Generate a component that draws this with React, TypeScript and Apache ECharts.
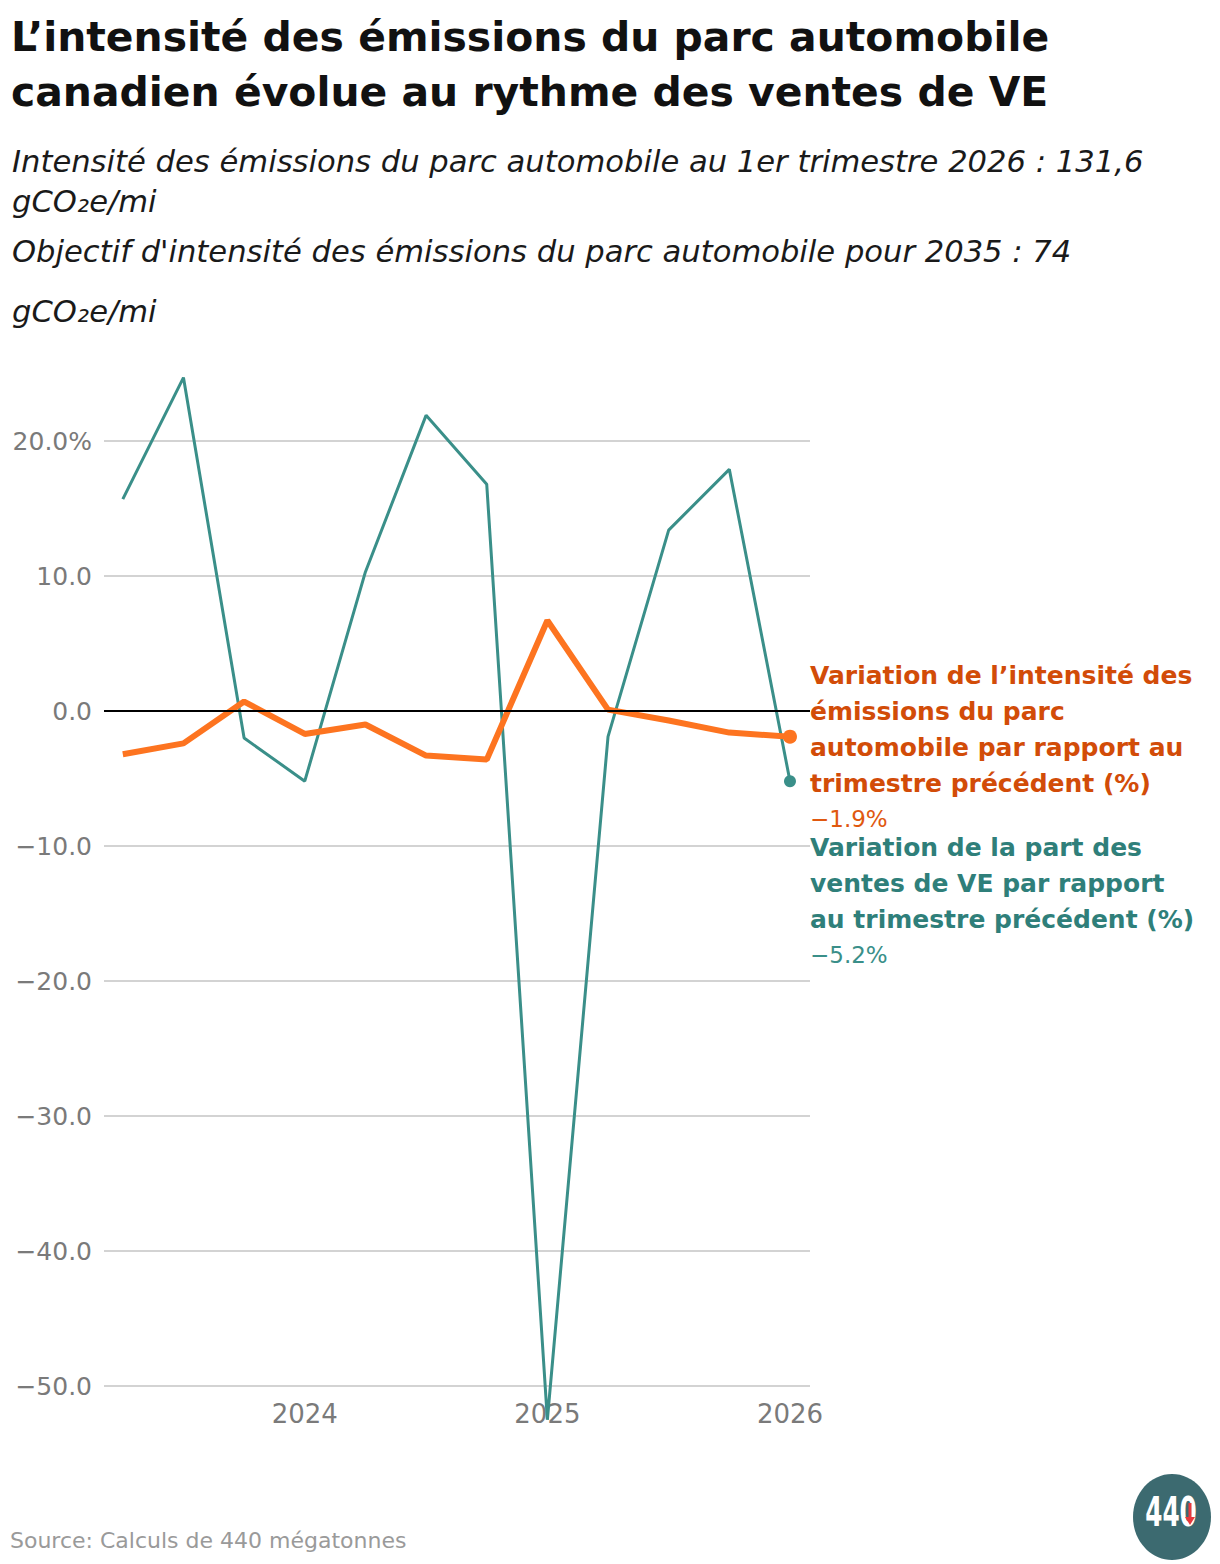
import React, { useEffect, useRef } from "react";
import * as echarts from "echarts";

const quarters = [
  "2023-T2", "2023-T3", "2023-T4", "2024-T1", "2024-T2", "2024-T3",
  "2024-T4", "2025-T1", "2025-T2", "2025-T3", "2025-T4", "2026-T1",
];
const intensityChange = [-3.2, -2.4, 0.7, -1.7, -1.0, -3.3, -3.6, 6.7, 0.1, -0.7, -1.6, -1.9];
const evShareChange = [15.7, 24.7, -2.0, -5.2, 10.3, 21.9, 16.8, -52.5, -1.9, 13.4, 17.9, -5.2];
const yearTickIndex = [3, 7, 11];
const yearTickLabels = ["2024", "2025", "2026"];

const titleLines = [
  "L’intensité des émissions du parc automobile",
  "canadien évolue au rythme des ventes de VE",
];
const subtitleLines = [
  "Intensité des émissions du parc automobile au 1er trimestre 2026 : 131,6",
  "gCO₂e/mi",
  "Objectif d'intensité des émissions du parc automobile pour 2035 : 74",
  "gCO₂e/mi",
];
const orangeLabel = [
  "Variation de l’intensité des",
  "émissions du parc",
  "automobile par rapport au",
  "trimestre précédent (%)",
];
const tealLabel = [
  "Variation de la part des",
  "ventes de VE par rapport",
  "au trimestre précédent (%)",
];
const sourceText = "Source: Calculs de 440 mégatonnes";

const FONT = "'DejaVu Sans', 'Noto Sans', sans-serif";
const ORANGE = "#fd7420";
const ORANGE_TXT = "#d24c08";
const TEAL = "#3a8f89";
const TEAL_TXT = "#2f7f7a";

const fmtMinus = (v: number, d = 1) => {
  const s = Math.abs(v).toFixed(d);
  return v < 0 ? "−" + s : s;
};

export default function App() {
  const ref = useRef<HTMLDivElement>(null);
  useEffect(() => {
    document.body.style.margin = "0";
    if (!ref.current) return;
    const chart = echarts.init(ref.current, null, { renderer: "svg" });
    const orangeData = intensityChange.map((v, i) => [i, v]);
    const tealData = evShareChange.map((v, i) => [i, v]);
    const last = quarters.length - 1;

    const graphics: any[] = [];
    titleLines.forEach((t, i) => {
      graphics.push({
        type: "text", x: 11, y: 37 + i * 55,
        style: { text: t, font: `bold 40.9px ${FONT}`, fill: "#111", textVerticalAlign: "middle" },
      });
    });
    const subY = [161, 201, 251, 311];
    subtitleLines.forEach((t, i) => {
      graphics.push({
        type: "text", x: 12, y: subY[i],
        style: { text: t, font: `oblique 30.6px ${FONT}`, fill: "#1a1a1a", textVerticalAlign: "middle" },
      });
    });
    orangeLabel.forEach((t, i) => {
      graphics.push({
        type: "text", x: 810, y: 675 + i * 36,
        style: { text: t, font: `bold 25px ${FONT}`, fill: ORANGE_TXT, textVerticalAlign: "middle" },
      });
    });
    graphics.push({
      type: "text", x: 810, y: 819,
      style: { text: fmtMinus(intensityChange[last]) + "%", font: `23px ${FONT}`, fill: "#e0580f", textVerticalAlign: "middle" },
    });
    tealLabel.forEach((t, i) => {
      graphics.push({
        type: "text", x: 810, y: 847 + i * 36,
        style: { text: t, font: `bold 25px ${FONT}`, fill: TEAL_TXT, textVerticalAlign: "middle" },
      });
    });
    graphics.push({
      type: "text", x: 810, y: 955,
      style: { text: fmtMinus(evShareChange[last]) + "%", font: `23px ${FONT}`, fill: TEAL, textVerticalAlign: "middle" },
    });
    graphics.push({
      type: "text", x: 10, y: 1540,
      style: { text: sourceText, font: `22px ${FONT}`, fill: "#9a9a9a", textVerticalAlign: "middle" },
    });
    // logo
    graphics.push({
      type: "ellipse", shape: { cx: 1172, cy: 1517, rx: 39, ry: 43 },
      style: { fill: "#3c6a70" },
    });
    graphics.push({
      type: "text", x: 1171, y: 1512, scaleX: 0.62, scaleY: 1,
      style: {
        text: "440", font: `bold 40px ${FONT}`,
        fill: "#ffffff", textAlign: "center", textVerticalAlign: "middle",
      },
    });
    graphics.push({
      type: "line", shape: { x1: 1190, y1: 1503, x2: 1190, y2: 1519 },
      style: { stroke: "#e8383d", lineWidth: 3 },
    });
    graphics.push({
      type: "polygon", shape: { points: [[1185, 1517], [1195, 1517], [1190, 1525]] },
      style: { fill: "#e8383d" },
    });

    chart.setOption({
      animation: false,
      backgroundColor: "#ffffff",
      textStyle: { fontFamily: FONT },
      grid: { left: 104, right: 410, top: 441, bottom: 1564 - 1386, containLabel: false },
      xAxis: {
        type: "value",
        min: -0.31,
        max: 11.33,
        axisLine: { show: false },
        axisTick: { show: false },
        splitLine: { show: false },
        axisLabel: {
          customValues: yearTickIndex,
          formatter: (v: number) => yearTickLabels[yearTickIndex.indexOf(v)] ?? "",
          color: "#7a7a7a",
          fontSize: 26,
          margin: 15,
          fontFamily: FONT,
        },
      },
      yAxis: {
        type: "value",
        min: -50,
        max: 20,
        interval: 10,
        axisLine: { show: false },
        axisTick: { show: false },
        splitLine: { lineStyle: { color: "#c4c4c4", width: 1.5 } },
        axisLabel: {
          formatter: (v: number) => (v === 20 ? "20.0%" : fmtMinus(v)),
          color: "#7a7a7a",
          fontSize: 25,
          margin: 12,
          fontFamily: FONT,
        },
      },
      graphic: graphics,
      series: [
        {
          type: "line",
          name: "Variation de la part des ventes de VE",
          data: tealData,
          clip: false,
          lineStyle: { color: TEAL, width: 3 },
          itemStyle: { color: TEAL },
          symbol: (_v: any, p: any) => (p.dataIndex === last ? "circle" : "none"),
          symbolSize: 12,
          showSymbol: true,
          markLine: {
            silent: true,
            symbol: "none",
            label: { show: false },
            lineStyle: { color: "#000", width: 2, type: "solid" },
            data: [{ yAxis: 0 }],
          },
        },
        {
          type: "line",
          name: "Variation de l’intensité des émissions",
          data: orangeData,
          clip: false,
          lineStyle: { color: ORANGE, width: 6 },
          itemStyle: { color: ORANGE },
          symbol: (_v: any, p: any) => (p.dataIndex === last ? "circle" : "none"),
          symbolSize: 14,
          showSymbol: true,
        },
      ],
    });
    return () => chart.dispose();
  }, []);
  return (
    <div
      ref={ref}
      style={{ width: 1220, height: 1564, position: "absolute", left: 0, top: 0 }}
    />
  );
}
